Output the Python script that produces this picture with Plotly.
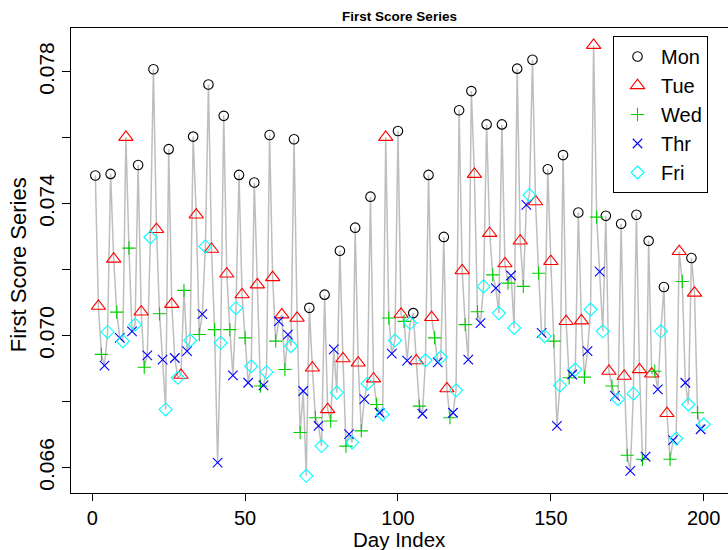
import plotly.graph_objects as go

# ---- data ----
scores = [
    0.07485, 0.07089, 0.06943, 0.06909, 0.07011, 0.07490, 0.07232, 0.07071, 0.06993, 0.06983,
    0.07601, 0.07265, 0.07013, 0.07033, 0.07517, 0.07072, 0.06904, 0.06940, 0.07298, 0.07807,
    0.07322, 0.07066, 0.06927, 0.06776, 0.07565, 0.07095, 0.06932, 0.06872, 0.06880, 0.07137,
    0.06953, 0.06985, 0.07603, 0.07366, 0.07003, 0.07065, 0.07270, 0.07761, 0.07262, 0.07018,
    0.06615, 0.06978, 0.07666, 0.07187, 0.07018, 0.06879, 0.07083, 0.07487, 0.07124, 0.06993,
    0.06857, 0.06907, 0.07464, 0.07154, 0.06847, 0.06849, 0.06889, 0.07608, 0.07176, 0.06983,
    0.07043, 0.07063, 0.06897, 0.07003, 0.06968, 0.07595, 0.07053, 0.06706, 0.06832, 0.06575,
    0.07084, 0.06902, 0.06751, 0.06726, 0.06665, 0.07124, 0.06776, 0.06741, 0.06958, 0.06827,
    0.07257, 0.06930, 0.06665, 0.06701, 0.06676, 0.07327, 0.06917, 0.06711, 0.06807, 0.06854,
    0.07421, 0.06869, 0.06791, 0.06766, 0.06761, 0.07601, 0.07053, 0.06945, 0.06985, 0.07620,
    0.07065, 0.07043, 0.06924, 0.07038, 0.07068, 0.06924, 0.06786, 0.06763, 0.06925, 0.07487,
    0.07055, 0.06993, 0.06919, 0.06934, 0.07299, 0.06839, 0.06751, 0.06766, 0.06834, 0.07683,
    0.07197, 0.07033, 0.06927, 0.07741, 0.07489, 0.07072, 0.07038, 0.07149, 0.07640, 0.07310,
    0.07184, 0.07144, 0.07068, 0.07640, 0.07218, 0.07159, 0.07182, 0.07023, 0.07809, 0.07287,
    0.07149, 0.07396, 0.07426, 0.07836, 0.07406, 0.07189, 0.07008, 0.06998, 0.07504, 0.07225,
    0.06983, 0.06726, 0.06849, 0.07547, 0.07043, 0.06872, 0.06882, 0.06897, 0.07373, 0.07045,
    0.06874, 0.06953, 0.07079, 0.07880, 0.07359, 0.07194, 0.07013, 0.07363, 0.06892, 0.06847,
    0.06817, 0.06807, 0.07339, 0.06877, 0.06637, 0.06590, 0.06824, 0.07366, 0.06897, 0.06625,
    0.06633, 0.07287, 0.06884, 0.06892, 0.06837, 0.07013, 0.07147, 0.06764, 0.06625, 0.06683,
    0.06688, 0.07255, 0.07164, 0.06857, 0.06791, 0.07235, 0.07129, 0.06766, 0.06716, 0.06731,
]

weekdays = (
    "Mon Tue Wed Thr Fri Mon Tue Wed Thr Fri "
    "Tue Wed Thr Fri Mon Tue Wed Thr Fri Mon "
    "Tue Wed Thr Fri Mon Tue Thr Fri Tue Wed "
    "Thr Fri Mon Tue Wed Thr Fri Mon Tue Wed "
    "Thr Fri Mon Tue Wed Thr Fri Mon Tue Wed "
    "Thr Fri Mon Tue Wed Thr Fri Mon Tue Wed "
    "Thr Tue Wed Thr Fri Mon Tue Wed Thr Fri "
    "Mon Tue Wed Thr Fri Mon Tue Wed Thr Fri "
    "Mon Tue Wed Thr Fri Mon Tue Wed Thr Fri "
    "Mon Tue Wed Thr Fri Tue Wed Thr Fri Mon "
    "Tue Wed Thr Fri Mon Tue Wed Thr Fri Mon "
    "Tue Wed Thr Fri Mon Tue Wed Thr Fri Mon "
    "Tue Wed Thr Mon Tue Wed Thr Fri Mon Tue "
    "Wed Thr Fri Mon Tue Wed Thr Fri Mon Tue "
    "Wed Thr Fri Mon Tue Wed Thr Fri Mon Tue "
    "Wed Thr Fri Mon Tue Wed Thr Fri Mon Tue "
    "Wed Thr Fri Tue Wed Thr Fri Mon Tue Wed "
    "Thr Fri Mon Tue Wed Thr Fri Mon Tue Wed "
    "Thr Mon Tue Wed Thr Fri Mon Tue Wed Thr "
    "Fri Tue Wed Thr Fri Mon Tue Wed Thr Fri"
).split()

days = list(range(1, len(scores) + 1))

legend_names = ["Mon", "Tue", "Wed", "Thr", "Fri"]
y_tick_vals = [0.066, 0.068, 0.070, 0.072, 0.074, 0.076, 0.078]
y_tick_text = ["0.066", "", "0.070", "", "0.074", "", "0.078"]
x_tick_vals = [0, 50, 100, 150, 200]

# ---- styles ----
styles = {
    "Mon": dict(symbol="circle-open", size=9.5, color="#000000"),
    "Tue": dict(symbol="triangle-up-open", size=12.5, color="#FF0000"),
    "Wed": dict(symbol="cross-thin-open", size=9.5, color="#00CD00"),
    "Thr": dict(symbol="x-thin-open", size=9.5, color="#0000FF"),
    "Fri": dict(symbol="diamond-open", size=10, color="#00FFFF"),
}

FONT = "Liberation Sans, Arial, Helvetica, sans-serif"

fig = go.Figure()
fig.add_trace(go.Scatter(
    x=days, y=scores, mode="lines",
    line=dict(color="#BEBEBE", width=1.5),
    showlegend=False, hoverinfo="skip",
))
for name in legend_names:
    st = styles[name]
    xs = [d for d, w in zip(days, weekdays) if w == name]
    ys = [v for v, w in zip(scores, weekdays) if w == name]
    fig.add_trace(go.Scatter(
        x=xs, y=ys, mode="markers", name=name,
        marker=dict(symbol=st["symbol"], size=st["size"], color=st["color"],
                    line=dict(color=st["color"], width=1.1)),
    ))

# R-style 4% axis extension
xr = max(days) - min(days)
yr = max(scores) - min(scores)
x_range = [min(days) - 0.04 * xr, max(days) + 0.04 * xr]
y_range = [min(scores) - 0.04 * yr, max(scores) + 0.04 * yr]

fig.update_layout(
    width=728, height=550,
    margin=dict(l=71, r=0, t=28, b=57, autoexpand=False),
    paper_bgcolor="white", plot_bgcolor="white",
    font=dict(family=FONT, color="black"),
    title=dict(text="<b>First Score Series</b>", xref="paper", x=0.5, xanchor="center",
               y=1 - 16 / 550, yanchor="middle", font=dict(size=13.5)),
    showlegend=True,
    legend=dict(x=(613 - 71) / 657, y=(493 - 36) / 465, xanchor="left", yanchor="top",
                bordercolor="black", borderwidth=1, bgcolor="white",
                font=dict(size=20), itemsizing="trace", itemwidth=37, tracegroupgap=0),
    xaxis=dict(range=x_range, tickvals=x_tick_vals, ticks="outside", ticklen=7,
               tickcolor="black", showline=True, linecolor="black", linewidth=1,
               mirror=True, showgrid=False, zeroline=False, automargin=False,
               tickfont=dict(size=20)),
    yaxis=dict(range=y_range, tickvals=y_tick_vals, ticktext=y_tick_text,
               ticks="outside", ticklen=8, tickcolor="black", tickangle=-90,
               showline=True, linecolor="black", linewidth=1, showgrid=False,
               zeroline=False, automargin=False, tickfont=dict(size=21)),
    annotations=[
        dict(text="Day Index", xref="paper", yref="paper", x=0.5, y=(493 - 539.5) / 465,
             xanchor="center", yanchor="middle", showarrow=False, font=dict(size=20.5)),
        dict(text="First Score Series", xref="paper", yref="paper",
             x=(18 - 71) / 657, y=0.49, textangle=-90,
             xanchor="center", yanchor="middle", showarrow=False, font=dict(size=22)),
    ],
)

fig.write_html(
    "out.html",
    config={"displayModeBar": False},
    post_script="document.body.style.margin='0px';document.body.style.overflow='hidden';",
)
